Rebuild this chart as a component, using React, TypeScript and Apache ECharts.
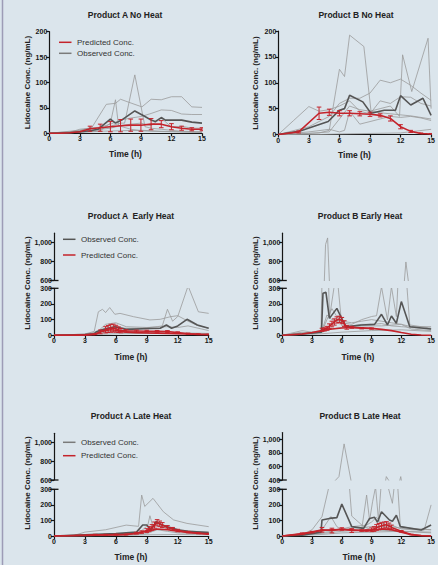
import React, { useEffect, useRef } from "react";
import * as echarts from "echarts";

type Pt = [number, number];

// ---------- Tick values ----------
const xTickStep = 3;
const topRowYMax = 200;
const topRowYStep = 50;
const lowerYMax = 300;
const lowerYStep = 100;
const upperTicksA = [600, 800, 1000];
const upperTicksBLate = [400, 600, 800, 1000];

// ---------- Product A No Heat ----------
const aNoSubjects: Pt[][] = [
  [[0,0],[3,5],[4.2,12],[5.6,57],[6.5,59],[7,67],[8.1,59],[9.1,52],[10,67],[11,66],[12,72],[13,72],[14,52],[15,51]],
  [[0,0],[3,2],[5,5],[6,20],[6.5,66],[6.8,15],[8,8],[9,5],[10,4],[12,3],[15,2]],
  [[0,0],[3,3],[5,8],[7,20],[7.4,20],[8.4,115],[9.4,13],[10,10],[11,8],[12,6],[13,4],[15,3]],
  [[0,0],[2,2],[3,8],[4,10],[5,12],[6,18],[7,26],[8,30],[9,33],[10,39],[11,46],[12,45],[13,38],[14,37],[15,37]],
  [[0,0],[3,6],[4,10],[5,8],[6,10],[7,15],[8,18],[9,20],[10,15],[11,30],[12,12],[13,14],[14,10],[15,10]],
  [[0,0],[3,2],[5,4],[7,5],[9,6],[11,4],[13,3],[15,2]],
];
const aNoMean: Pt[] = [[0,0],[2,1],[3,3],[4,5],[4.8,8],[6,28],[6.5,20],[7.1,26],[8.4,44],[9.4,33],[10,26],[10.4,23],[11,31],[11.4,26],[12,26],[13,26],[14,22],[15,20]];
const aNoPredHours = [0,1,2,3,4,5,6,7,8,9,10,11,12,13,14,15];
const aNoPredValues = [0,0,1,3,9,11,13,15,16,16,18,18,13,10,8,8];
const aNoPredErr = [0,0,0,0,5,7,10,12,12,12,11,7,6,4,3,3];

// ---------- Product B No Heat ----------
const bNoSubjects: Pt[][] = [
  [[0,0],[4,3],[5,8],[6,126],[6.5,112],[7,192],[8.4,170],[9.1,45],[10,42],[11,40],[12,38],[13,36],[14,33],[15,30]],
  [[0,0],[3,2],[5,5],[6,30],[7,55],[8,48],[9,45],[10,50],[11,55],[11.9,35],[12.2,154],[13.1,83],[14.7,186],[15,50]],
  [[0,0],[3,15],[5,35],[6,60],[7,70],[8,70],[9,80],[10,105],[11,100],[12,107],[13,95],[14,80],[15,66]],
  [[0,0],[1.5,27],[3,54],[4,45],[5,48],[6,55],[7,65],[8,45],[9,40],[10,65],[11,60],[12,73],[13,72],[14,60],[15,55]],
  [[0,0],[3,5],[5,10],[6,5],[6.5,8],[7,45],[8,20],[9,25],[10,30],[11,35],[12,33],[13,35],[14,32],[15,27]],
  [[0,0],[4,0],[6,1],[9,2],[12,3],[15,10]],
];
const bNoMean: Pt[] = [[0,0],[2,6],[4.9,25],[6,47],[6.5,50],[7,76],[8.3,63],[9.1,41],[10.4,47],[11.5,47],[12,75],[13,57],[14.2,70],[15,37]];
const bNoPredHours = [0,2,4,5,6,7,8,9,10,11,12,13,14,15];
const bNoPredValues = [0,5,41,43,41,41,40,39,37,31,15,6,2,1];
const bNoPredErr = [0,2,12,6,5,5,4,4,3,5,4,2,1,1];

// ---------- Product A Early Heat ----------
const aEarlySubjects: Pt[][] = [
  [[0,0],[3,8],[3.9,25],[4.3,150],[4.7,166],[5,145],[5.4,177],[5.9,134],[6.4,140],[7.7,119],[9.3,98],[10.3,102],[11.3,119],[12,125],[13,90],[14,60],[15,45]],
  [[0,0],[3,5],[4,20],[5,40],[6,50],[7,45],[8,45],[9,48],[10,55],[10.5,60],[11,166],[11.5,90],[12,120],[13,315],[14,150],[15,140]],
  [[0,0],[4,10],[4.5,40],[5,70],[6,80],[7,55],[9,50],[11,55],[12,50],[13,60],[15,30]],
  [[0,0],[4,5],[5,20],[6,25],[8,20],[10,15],[12,10],[15,10]],
  [[0,0],[3,3],[6,10],[9,12],[12,15],[15,12]],
];
const aEarlyMean: Pt[] = [[0,0],[3,5],[3.9,10],[4.1,23],[4.8,38],[5.9,55],[7,38],[9.3,43],[10.3,45],[10.9,66],[11.4,45],[12,60],[12.9,102],[13.9,66],[15,45]];
const aEarlyPredHours = [0,3,4,4.5,5,5.25,5.5,5.75,6,6.25,6.5,7,8,9,10,11,12,13,14,15];
const aEarlyPredValues = [0,2,6,22,35,40,45,46,42,36,30,28,27,26,25,24,17,10,7,5];
const aEarlyPredErr = [0,0,4,12,20,22,25,25,22,18,14,8,6,6,6,6,5,4,3,2];
const aEarlyPredCurve: Pt[] = [[0,0],[2,1],[3,3],[4,8],[4.5,22],[5,30],[5.5,35],[6,32],[6.5,25],[7,20],[8,17],[9,15],[10,14],[11,12],[12,10],[13,8],[14,6],[15,5]];

// ---------- Product B Early Heat ----------
const bEarlySubjects: Pt[][] = [
  [[0,0],[2,20],[3,10],[3.9,20],[4.2,980],[4.4,1050],[4.75,110],[5.2,300],[5.6,330],[6,60],[7,60],[8,70],[9,70],[10,75],[11,60],[12,55],[13,50],[14,45],[15,40]],
  [[0,0],[3,20],[4,25],[4.5,100],[5,170],[5.5,120],[6,80],[7,70],[8,100],[9,120],[9.5,125],[10,310],[10.6,98],[11,310],[11.5,119],[12,796],[12.85,66],[14,55],[15,45]],
  [[0,0],[2,30],[3,20],[4,30],[4.5,130],[5,100],[6,90],[7,80],[8,90],[9,100],[10,90],[11,80],[12,70],[13,40],[15,30]],
  [[0,0],[3,15],[4,20],[5,40],[6,50],[8,60],[10,60],[12,70],[13,55],[15,55]],
  [[0,0],[2,5],[4,10],[6,20],[9,30],[12,35],[15,25]],
];
const bEarlyMean: Pt[] = [[0,0],[2,8],[3.95,20],[4.1,268],[4.4,274],[4.75,108],[5.5,172],[5.9,119],[6.4,55],[8,66],[9.3,70],[10,134],[10.6,66],[11,123],[11.5,77],[12,215],[12.85,55],[15,40]];
const bEarlyPredHours = [4,4.25,4.5,4.75,5,5.25,5.5,5.75,6,6.25,6.5,7,8,9];
const bEarlyPredValues = [35,38,45,58,72,85,98,102,94,75,51,51,45,43];
const bEarlyPredErr = [10,10,12,15,18,20,20,20,20,18,12,6,4,4];
const bEarlyPredCurve: Pt[] = [[0,0],[2,8],[3,18],[4,30],[5,40],[6,47],[7,50],[8,48],[9,44],[10,38],[11,30],[12,18],[13,7],[14,2],[15,0]];

// ---------- Product A Late Heat ----------
const aLateSubjects: Pt[][] = [
  [[0,0],[2,5],[3,25],[5,40],[7,70],[8.2,62],[8.5,263],[8.8,190],[9.6,242],[10.6,156],[11.6,103],[12.9,81],[15,60]],
  [[0,0],[4,5],[6,8],[8,15],[8.6,40],[9.1,70],[9.3,130],[9.6,60],[10,80],[11,50],[12,30],[15,20]],
  [[0,0],[4,3],[7,10],[8.5,20],[9,30],[9.5,60],[10,90],[10.5,60],[11,45],[12,35],[15,25]],
  [[0,0],[5,2],[8,8],[9,15],[10,40],[11,30],[12,20],[15,15]],
  [[0,0],[3,2],[6,5],[9,8],[12,10],[15,8]],
];
const aLateMean: Pt[] = [[0,0],[3,8],[6,15],[8,25],[8.6,71],[9,71],[9.4,38],[9.9,92],[10.5,70],[11,60],[12,40],[13,30],[15,22]];
const aLatePredHours = [0,2,3,4,5,6,7,8,8.5,9,9.25,9.5,9.75,10,10.25,10.5,11,11.5,12,13,14,15];
const aLatePredValues = [0,3,5,8,8,9,10,18,25,35,45,55,70,85,78,70,55,45,35,25,18,14];
const aLatePredErr = [0,0,0,3,3,3,3,6,8,12,15,18,20,20,18,16,12,10,8,5,4,3];
const aLatePredCurve: Pt[] = [[0,0],[3,4],[5,6],[7,10],[8,18],[9,30],[10,45],[11,40],[12,30],[13,22],[15,12]];

// ---------- Product B Late Heat ----------
const bLateSubjects: Pt[][] = [
  [[0,0],[2,10],[3,40],[4,124],[4.75,330],[5.5,450],[6,932],[7,128],[8.2,60],[9,40],[12,30],[15,20]],
  [[0,0],[3,10],[6,30],[8,40],[8.5,263],[8.8,100],[9.1,220],[9.4,315],[9.7,100],[10.1,450],[11.1,210],[11.5,450],[11.9,60],[13,50],[15,40]],
  [[0,0],[3,20],[4,40],[4.9,125],[5.5,60],[6,40],[7,50],[9,60],[11,60],[13,40],[14.3,38],[15,200]],
  [[0,0],[3,15],[5,30],[7,60],[8.5,70],[9,90],[9.5,120],[10,80],[11,70],[12,45],[15,40]],
  [[0,0],[4,10],[6,20],[9,25],[12,30],[15,25]],
];
const bLateMean: Pt[] = [[0,0],[2,5],[3.9,25],[4,103],[4.75,113],[5.5,118],[6,205],[7,60],[8.2,49],[8.8,113],[9.3,120],[9.6,88],[10,156],[10.8,103],[11.1,95],[11.5,133],[11.9,60],[14,39],[15,71]];
const bLatePredHours = [0,2,3,4,5,6,7,8,8.5,9,9.25,9.5,9.75,10,10.25,10.5,10.75,11,12,13,14,15];
const bLatePredValues = [0,15,25,40,35,45,35,35,35,40,45,55,60,65,70,72,65,55,30,10,3,1];
const bLatePredErr = [0,5,5,15,15,8,12,5,5,12,15,18,20,20,20,20,18,15,5,2,0,0];
const bLatePredCurve: Pt[] = [[0,0],[2,12],[3,25],[4,35],[5,40],[6,42],[7,40],[8,35],[9,38],[10,45],[11,40],[12,25],[13,8],[14,2],[15,0]];

// ---------- styling ----------
const RED = "#c4232b";
const THIN = "#9a9a9a";
const MEAN = "#555555";
const AXIS = "#151515";
const FONT = "'Liberation Sans', Arial, sans-serif";

interface PanelDef {
  title: string;
  titleX: number; titleY: number;
  nameX: number; nameY: number;
  timeX: number; timeY: number;
  left: number; width: number;
  lower: { top: number; height: number; max: number; step: number };
  upper?: { top: number; height: number; min: number; ticks: number[] };
  subjects: Pt[][];
  mean: Pt[];
  predHours: number[]; predValues: number[]; predErr: number[];
  predCurve?: Pt[];
}

const panels: PanelDef[] = [
  { title: "Product A No Heat", titleX: 125, titleY: 15, nameX: 27, nameY: 82.5, timeX: 125.5, timeY: 154,
    left: 49.3, width: 152.7, lower: { top: 31.7, height: 101.6, max: topRowYMax, step: topRowYStep },
    subjects: aNoSubjects, mean: aNoMean, predHours: aNoPredHours, predValues: aNoPredValues, predErr: aNoPredErr },
  { title: "Product B No Heat", titleX: 356, titleY: 15, nameX: 255.5, nameY: 83, timeX: 354.5, timeY: 154.5,
    left: 278.3, width: 154, lower: { top: 31, height: 103.5, max: topRowYMax, step: topRowYStep },
    subjects: bNoSubjects, mean: bNoMean, predHours: bNoPredHours, predValues: bNoPredValues, predErr: bNoPredErr },
  { title: "Product A  Early Heat", titleX: 131, titleY: 215.5, nameX: 27.5, nameY: 283, timeX: 131, timeY: 357,
    left: 54, width: 154.7, lower: { top: 288.3, height: 47, max: lowerYMax, step: lowerYStep },
    upper: { top: 233.2, height: 47.3, min: 600, ticks: upperTicksA },
    subjects: aEarlySubjects, mean: aEarlyMean, predHours: aEarlyPredHours, predValues: aEarlyPredValues, predErr: aEarlyPredErr, predCurve: aEarlyPredCurve },
  { title: "Product B Early Heat", titleX: 360, titleY: 215.5, nameX: 255.7, nameY: 283, timeX: 358, timeY: 357,
    left: 282.3, width: 154.5, lower: { top: 288.3, height: 47, max: lowerYMax, step: lowerYStep },
    upper: { top: 233.2, height: 47.3, min: 600, ticks: upperTicksA },
    subjects: bEarlySubjects, mean: bEarlyMean, predHours: bEarlyPredHours, predValues: bEarlyPredValues, predErr: bEarlyPredErr, predCurve: bEarlyPredCurve },
  { title: "Product A Late Heat", titleX: 131, titleY: 416, nameX: 27.5, nameY: 483, timeX: 131, timeY: 556.5,
    left: 54, width: 154.7, lower: { top: 489.3, height: 46.7, max: lowerYMax, step: lowerYStep },
    upper: { top: 433.3, height: 46.7, min: 600, ticks: upperTicksA },
    subjects: aLateSubjects, mean: aLateMean, predHours: aLatePredHours, predValues: aLatePredValues, predErr: aLatePredErr, predCurve: aLatePredCurve },
  { title: "Product B Late Heat", titleX: 360, titleY: 416, nameX: 255.7, nameY: 483, timeX: 359, timeY: 557,
    left: 282.3, width: 154.5, lower: { top: 489.3, height: 46.7, max: lowerYMax, step: lowerYStep },
    upper: { top: 432.5, height: 47.5, min: 400, ticks: upperTicksBLate },
    subjects: bLateSubjects, mean: bLateMean, predHours: bLatePredHours, predValues: bLatePredValues, predErr: bLatePredErr, predCurve: bLatePredCurve },
];

const axisLabelStyle = { fontSize: 7, fontWeight: "bold" as const, color: AXIS, fontFamily: FONT };

function buildOption() {
  const grid: any[] = [];
  const xAxis: any[] = [];
  const yAxis: any[] = [];
  const series: any[] = [];
  const graphic: any[] = [];

  const lineSeries = (g: number, data: Pt[], color: string, width: number, z: number) => ({
    type: "line", xAxisIndex: g, yAxisIndex: g, data, showSymbol: false, symbol: "none",
    lineStyle: { color, width }, z, clip: true, silent: true,
  });

  panels.forEach((p) => {
    const gIdx: number[] = [];
    if (p.upper) {
      const gi = grid.length;
      grid.push({ left: p.left, top: p.upper.top, width: p.width, height: p.upper.height });
      xAxis.push({ gridIndex: gi, type: "value", min: 0, max: 15, interval: xTickStep, show: false });
      yAxis.push({
        gridIndex: gi, type: "value", min: p.upper.min, max: 1100,
        axisLine: { show: true, lineStyle: { color: AXIS, width: 1.2 } },
        axisTick: { show: true, length: 3, lineStyle: { color: AXIS, width: 1.2 }, customValues: p.upper.ticks },
        axisLabel: { ...axisLabelStyle, margin: 2, customValues: p.upper.ticks },
        splitLine: { show: false },
      });
      gIdx.push(gi);
    }
    const gl = grid.length;
    grid.push({ left: p.left, top: p.lower.top, width: p.width, height: p.lower.height });
    xAxis.push({
      gridIndex: gl, type: "value", min: 0, max: 15, interval: xTickStep,
      axisLine: { show: true, lineStyle: { color: AXIS, width: 1.2 } },
      axisTick: { show: true, length: 3, lineStyle: { color: AXIS, width: 1.2 } },
      axisLabel: { ...axisLabelStyle, margin: 2 },
      splitLine: { show: false },
    });
    yAxis.push({
      gridIndex: gl, type: "value", min: 0, max: p.lower.max, interval: p.lower.step,
      axisLine: { show: true, lineStyle: { color: AXIS, width: 1.2 } },
      axisTick: { show: true, length: 3, lineStyle: { color: AXIS, width: 1.2 } },
      axisLabel: { ...axisLabelStyle, margin: 2 },
      splitLine: { show: false },
    });
    gIdx.push(gl);

    gIdx.forEach((g) => {
      p.subjects.forEach((s) => series.push(lineSeries(g, s, THIN, 0.8, 1)));
      series.push(lineSeries(g, p.mean, MEAN, 1.6, 2));
    });
    if (p.predCurve) series.push(lineSeries(gl, p.predCurve, RED, 1.6, 3));
    const pred: Pt[] = p.predHours.map((h, i) => [h, p.predValues[i]]);
    series.push(lineSeries(gl, pred, RED, 1.6, 3));
    const bars = p.predHours
      .map((h, i) => [h, p.predValues[i] - p.predErr[i], p.predValues[i] + p.predErr[i], p.predErr[i]])
      .filter((d) => d[3] > 0)
      .map((d) => [d[0], Math.max(0, d[1]), d[2]]);
    series.push({
      type: "custom", xAxisIndex: gl, yAxisIndex: gl, data: bars, z: 4, clip: true, silent: true,
      encode: { x: 0, y: [1, 2] },
      renderItem: (_params: any, api: any) => {
        const x = api.value(0);
        const lo = api.coord([x, api.value(1)]);
        const hi = api.coord([x, api.value(2)]);
        const w = 2.3;
        const st = { stroke: RED, lineWidth: 1 };
        return {
          type: "group",
          children: [
            { type: "line", shape: { x1: lo[0], y1: lo[1], x2: hi[0], y2: hi[1] }, style: st },
            { type: "line", shape: { x1: lo[0] - w, y1: lo[1], x2: lo[0] + w, y2: lo[1] }, style: st },
            { type: "line", shape: { x1: hi[0] - w, y1: hi[1], x2: hi[0] + w, y2: hi[1] }, style: st },
          ],
        };
      },
    });

    // texts
    graphic.push({ type: "text", x: p.titleX, y: p.titleY,
      style: { text: p.title, fontSize: 8.5, fontWeight: "bold", fill: "#222", fontFamily: FONT, align: "center", verticalAlign: "middle" } });
    graphic.push({ type: "text", x: p.nameX, y: p.nameY, rotation: Math.PI / 2,
      style: { text: "Lidocaine Conc. (ng/mL)", fontSize: 8, fontWeight: "bold", fill: "#222", fontFamily: FONT, align: "center", verticalAlign: "middle" } });
    graphic.push({ type: "text", x: p.timeX, y: p.timeY,
      style: { text: "Time (h)", fontSize: 8.5, fontWeight: "bold", fill: "#222", fontFamily: FONT, align: "center", verticalAlign: "middle" } });

    // break caps
    if (p.upper) {
      const yb = p.upper.top + p.upper.height;
      const yt = p.lower.top;
      [yb, yt].forEach((yy) =>
        graphic.push({ type: "line", shape: { x1: p.left - 4.5, y1: yy, x2: p.left + 4.5, y2: yy },
          style: { stroke: AXIS, lineWidth: 1.3 }, z: 10 }));
    }
  });

  // legends
  const legendItem = (x: number, y: number, color: string, text: string) => [
    { type: "line", shape: { x1: x, y1: y, x2: x + 12.5, y2: y }, style: { stroke: color, lineWidth: 1.5 } },
    { type: "text", x: x + 18, y, style: { text, fontSize: 8, fill: "#333", fontFamily: FONT, verticalAlign: "middle" } },
  ];
  graphic.push(...legendItem(59, 42.3, RED, "Predicted Conc."));
  graphic.push(...legendItem(59, 53.3, "#7a7a7a", "Observed Conc."));
  graphic.push(...legendItem(63, 239.3, MEAN, "Observed Conc."));
  graphic.push(...legendItem(63, 255, RED, "Predicted Conc."));
  graphic.push(...legendItem(63, 442.3, "#7a7a7a", "Observed Conc."));
  graphic.push(...legendItem(63, 455.7, RED, "Predicted Conc."));

  // left border
  graphic.push({ type: "line", shape: { x1: 2.5, y1: 0, x2: 2.5, y2: 565 }, style: { stroke: "#9d9cb6", lineWidth: 1.5 } });

  return {
    animation: false,
    backgroundColor: "#dbe5ec",
    grid, xAxis, yAxis, series, graphic,
  };
}

export default function App() {
  const ref = useRef<HTMLDivElement>(null);
  useEffect(() => {
    document.body.style.margin = "0";
    const chart = echarts.init(ref.current!, null, { renderer: "svg" });
    chart.setOption(buildOption() as any);
    return () => chart.dispose();
  }, []);
  return <div ref={ref} style={{ width: 438, height: 565 }} />;
}
